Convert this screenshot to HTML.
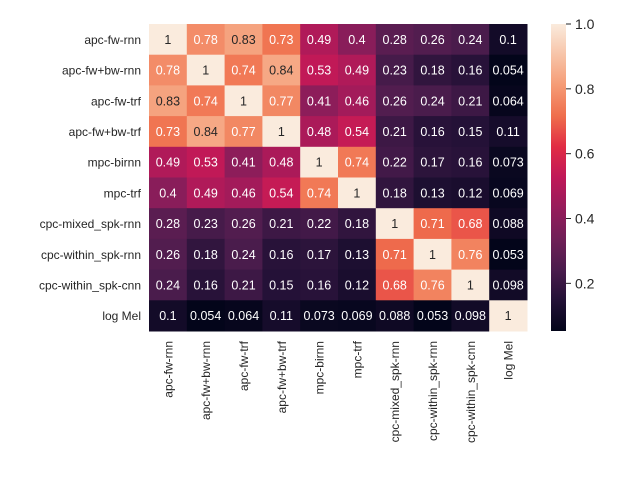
<!DOCTYPE html>
<html><head><meta charset="utf-8"><style>
body{margin:0;background:#fff;}
svg{display:block;font-family:"Liberation Sans",Arial,sans-serif;}
</style></head><body>
<svg id="chart" width="640" height="480"></svg>
<script>
const labels=["apc-fw-rnn","apc-fw+bw-rnn","apc-fw-trf","apc-fw+bw-trf","mpc-birnn","mpc-trf","cpc-mixed_spk-rnn","cpc-within_spk-rnn","cpc-within_spk-cnn","log Mel"];
const row0=[1,0.78,0.83,0.73,0.49,0.4,0.28,0.26,0.24,0.1];
const row1=[0.78,1,0.74,0.84,0.53,0.49,0.23,0.18,0.16,0.054];
const row2=[0.83,0.74,1,0.77,0.41,0.46,0.26,0.24,0.21,0.064];
const row3=[0.73,0.84,0.77,1,0.48,0.54,0.21,0.16,0.15,0.11];
const row4=[0.49,0.53,0.41,0.48,1,0.74,0.22,0.17,0.16,0.073];
const row5=[0.4,0.49,0.46,0.54,0.74,1,0.18,0.13,0.12,0.069];
const row6=[0.28,0.23,0.26,0.21,0.22,0.18,1,0.71,0.68,0.088];
const row7=[0.26,0.18,0.24,0.16,0.17,0.13,0.71,1,0.76,0.053];
const row8=[0.24,0.16,0.21,0.15,0.16,0.12,0.68,0.76,1,0.098];
const row9=[0.1,0.054,0.064,0.11,0.073,0.069,0.088,0.053,0.098,1];
const matrix=[row0,row1,row2,row3,row4,row5,row6,row7,row8,row9];
const cbTicks=[0.2,0.4,0.6,0.8,1.0];
const cbTickLabels=["0.2","0.4","0.6","0.8","1.0"];

const NS="http://www.w3.org/2000/svg";
const svg=document.getElementById("chart");
const L=149,T=24,R=527,B=331;
const cw=(R-L)/labels.length,ch=(B-T)/labels.length;
const flat=matrix.flat();
const vmin=Math.min(...flat),vmax=Math.max(...flat);
const stops=[[3,5,26],[35,17,54],[75,28,77],[112,31,87],[150,28,91],[192,24,88],[225,44,68],[239,110,76],[245,155,117],[247,196,168],[250,235,221]];
function color(v){let t=(v-vmin)/(vmax-vmin);t=Math.max(0,Math.min(1,t));const p=t*10,i=Math.min(9,Math.floor(p)),f=p-i;const a=stops[i],b=stops[i+1];return a.map((c,k)=>Math.round(c+(b[k]-c)*f));}
function mk(tag,attrs,parent){const e=document.createElementNS(NS,tag);for(const k in attrs)e.setAttribute(k,attrs[k]);(parent||svg).appendChild(e);return e;}
function xs(j){return L+j*cw;}
function ys(i){return T+i*ch;}
matrix.forEach((row,i)=>{row.forEach((v,j)=>{
 const c=color(v);
 const r=mk("rect",{x:xs(j),y:ys(i),width:cw+0.5,height:ch+0.5,fill:`rgb(${c})`});
 
 
 const t=mk("text",{x:xs(j)+cw/2,y:ys(i)+ch/2+4.5,"text-anchor":"middle","font-size":"12.5",fill:v>=0.8?"#262626":"#fff"});
 t.textContent=String(v);
 
 
});});
labels.forEach((lab,i)=>{
 const t=mk("text",{x:L-8,y:ys(i)+ch/2+4.5,"text-anchor":"end","font-size":"12",fill:"#262626"});
 t.textContent=lab;
 
 
 const cx=xs(i)+cw/2+4.5;
 const u=mk("text",{x:cx,y:341,"text-anchor":"end","font-size":"12",fill:"#262626",transform:`rotate(-90 ${cx} 341)`});
 u.textContent=lab;
 
 
});
const cbX=551,cbW=15;
const defs=mk("defs",{});
const g=mk("linearGradient",{id:"cbg",x1:0,y1:1,x2:0,y2:0},defs);
stops.forEach((s,k)=>mk("stop",{offset:k/10,"stop-color":`rgb(${s})`},g));
const cb=mk("rect",{x:cbX,y:T,width:cbW,height:B-T,fill:"url(#cbg)"});


function cy(v){return B-(v-vmin)/(vmax-vmin)*(B-T);}
cbTicks.forEach((v,k)=>{
 const y=cy(v);
 mk("line",{x1:cbX+cbW,x2:cbX+cbW+5,y1:y,y2:y,stroke:"#262626","stroke-width":1});
 const t=mk("text",{x:cbX+cbW+9,y:y+5,"font-size":"14",fill:"#262626"});
 t.textContent=cbTickLabels[k];
 
 
});
</script>
</body></html>
